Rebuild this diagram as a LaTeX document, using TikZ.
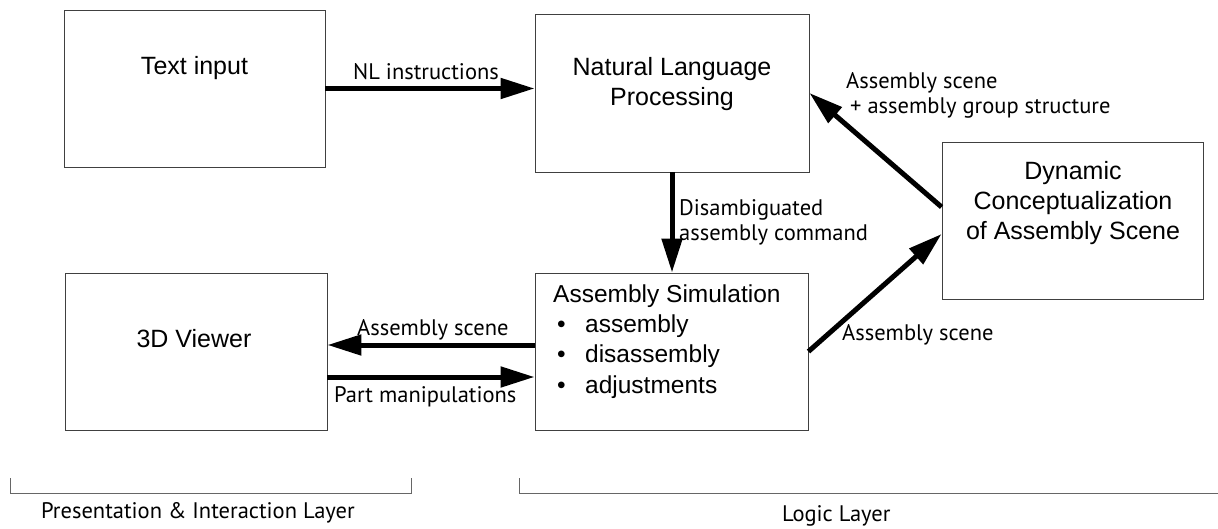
\documentclass[tikz,border=0pt]{standalone}
\usepackage{fontspec}
\setmainfont{Liberation Sans}
\newfontfamily\lblfont{PT Sans}
\usetikzlibrary{arrows.meta}
\begin{document}
\begin{tikzpicture}[x=1pt,y=1pt,
  box/.style={draw=black!75, line width=0.9pt, inner sep=0pt},
  boxtext/.style={font=\fontsize{25}{30}\selectfont, align=center, inner sep=0pt},
  simtext/.style={font=\fontsize{24.5}{30.3}\selectfont, align=left, inner sep=0pt},
  lbl/.style={font=\lblfont\fontsize{22.5}{25}\selectfont, inner sep=0pt, anchor=base west, align=left},
  conn/.style={line width=5pt, -{Triangle[length=34pt,width=20pt]}},
  layer/.style={draw=black!60, line width=1pt}]
\useasboundingbox (0,0) rectangle (1218,-529);
% boxes
\node[box, minimum width=261pt, minimum height=157pt] (tin) at (194.5,-88.5) {};
\node[box, minimum width=274pt, minimum height=158pt] (nlp) at (672,-93) {};
\node[box, minimum width=261pt, minimum height=157pt] (dyn) at (1072.5,-220.5) {};
\node[box, minimum width=262pt, minimum height=157pt] (viewer) at (196,-351.5) {};
\node[box, minimum width=273pt, minimum height=157pt] (sim) at (671.5,-351.5) {};
% box texts (multi-line nodes: base = last line)
\node[boxtext, anchor=base] (tint) at (194.5,-75) {Text input};
\node[boxtext, anchor=base] (nlpt) at (672,-106) {Natural Language\\Processing};
\node[boxtext, anchor=base] (dynt) at (1073,-240) {Dynamic\\Conceptualization\\of Assembly Scene};
\node[boxtext, anchor=base] (viewert) at (194,-348) {3D Viewer};
\node[simtext, anchor=base west] (simt) at (553,-393) {Assembly Simulation\\
  \hspace*{4pt}\makebox[28pt][l]{\textbullet}assembly\\
  \hspace*{4pt}\makebox[28pt][l]{\textbullet}disassembly\\
  \hspace*{4pt}\makebox[28pt][l]{\textbullet}adjustments};
% connectors
\draw[conn] (tin.east) -- (tin.east -| nlp.west);
\draw[conn] (nlp.south) -- (nlp.south |- sim.north);
\draw[conn] ([yshift=13.5pt]dyn.west) -- (nlp.east);
\draw[conn] (sim.east) -- ([yshift=-13.5pt]dyn.west);
\draw[conn] ([yshift=6.5pt]sim.west) -- ([yshift=6.5pt]viewer.east);
\draw[conn] ([yshift=-25.5pt]viewer.east) -- ([yshift=-25.5pt]sim.west);
% labels
\node[lbl] (l1) at (353,-80) {NL instructions};
\node[lbl] (l2) at (679,-241) {Disambiguated\\assembly command};
\node[lbl] (l3) at (846,-114) {Assembly scene\\\hspace*{4pt}+ assembly group structure};
\node[lbl] (l4) at (357,-335) {Assembly scene};
\node[lbl] (l5) at (334,-402) {Part manipulations};
\node[lbl] (l6) at (842,-340) {Assembly scene};
% layers
\coordinate (a1) at (10,-478);
\coordinate (a2) at (10,-493);
\coordinate (a3) at (411,-493);
\coordinate (a4) at (411,-478);
\draw[layer] (a1) -- (a2) -- (a3) -- (a4);
\coordinate (b1) at (519,-478);
\coordinate (b2) at (519,-493);
\coordinate (b3) at (1218,-493);
\draw[layer] (b1) -- (b2) -- (b3);
\node[lbl] (p1) at (41,-518) {Presentation \& Interaction Layer};
\node[lbl] (p2) at (782,-521) {Logic Layer};
\end{tikzpicture}
\end{document}
